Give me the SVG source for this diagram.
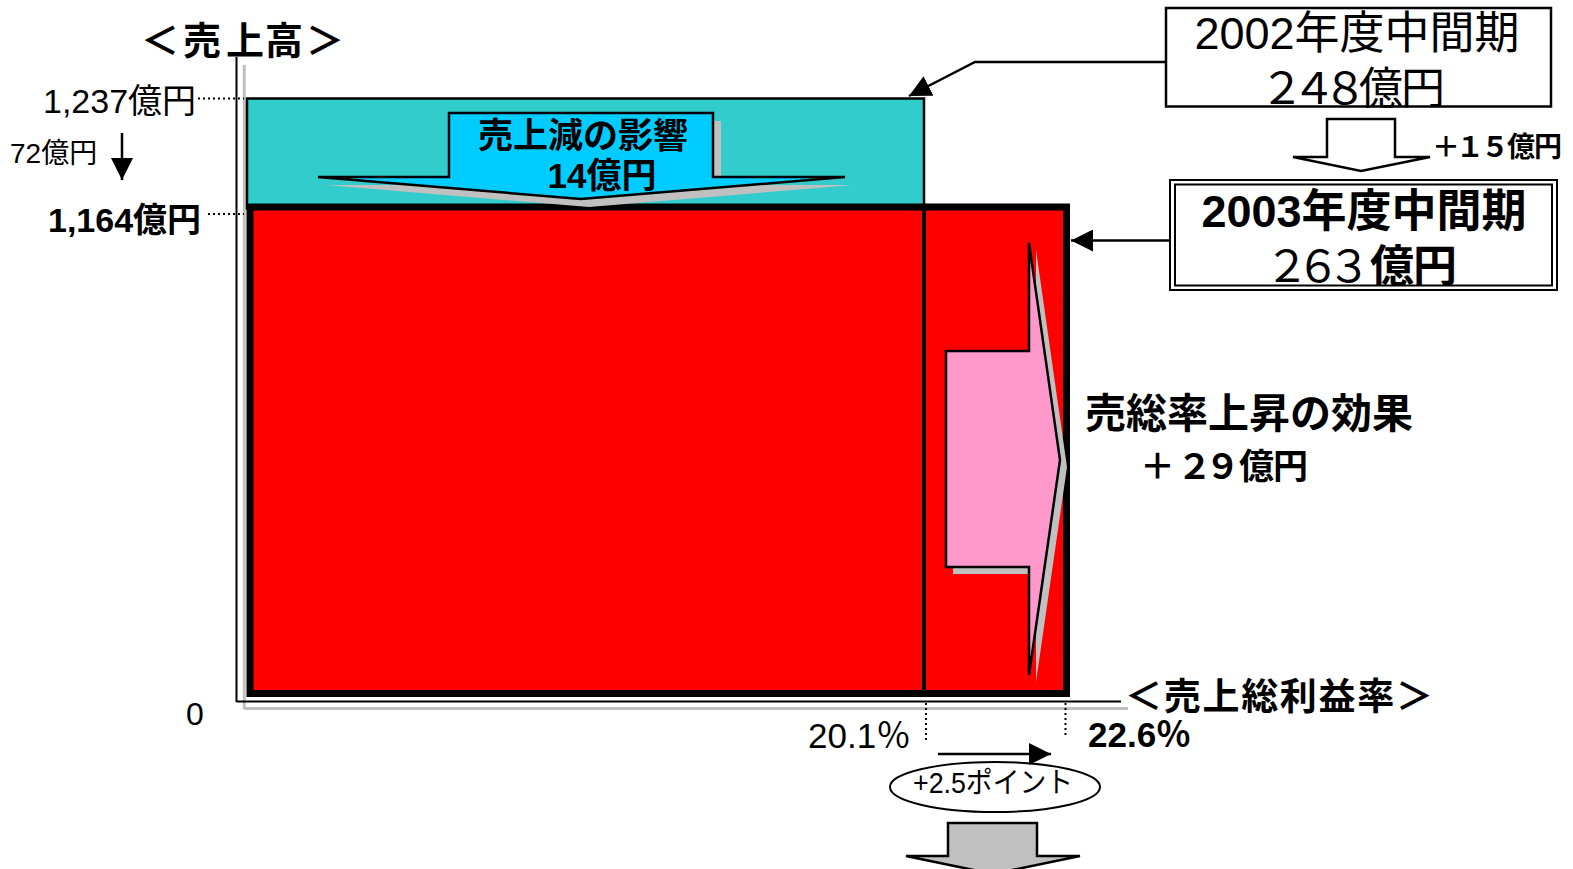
<svg xmlns="http://www.w3.org/2000/svg" width="1573" height="869" viewBox="0 0 1573 869">
<defs>
<style>
.t{font-family:"Liberation Sans","Noto Sans CJK JP",sans-serif;fill:#000}
.j{font-family:"Noto Sans CJK JP","Liberation Sans",sans-serif;fill:#000}
.b{font-weight:bold}
.dot{stroke:#000;stroke-width:2;stroke-dasharray:2 3;fill:none}
.ln{stroke:#000;stroke-width:2.5;fill:none}
.sh{fill:#C0C0C0;stroke:none}
.ol{stroke:#000;stroke-width:2.5;stroke-linejoin:miter}
</style>
<marker id="ah" markerUnits="userSpaceOnUse" markerWidth="22" markerHeight="22" refX="20" refY="10" orient="auto" viewBox="0 0 20 20">
<path d="M0,0 L20,10 L0,20 z" fill="#000"/>
</marker>
</defs>
<rect width="1573" height="869" fill="#fff"/>

<g id="axes">
<line x1="244.3" y1="65" x2="244.3" y2="709" stroke="#C0C0C0" stroke-width="3"/>
<line x1="244" y1="708.5" x2="1128" y2="708.5" stroke="#C0C0C0" stroke-width="3"/>
<line x1="236.5" y1="57" x2="236.5" y2="702" stroke="#000" stroke-width="2"/>
<line x1="236.5" y1="701.5" x2="1121" y2="701.5" stroke="#000" stroke-width="2"/>
<text class="j b" font-size="38" x="141 183 226 265 306" y="54">＜売上高＞</text>
<text class="j b" font-size="37" x="1125" y="710" textLength="308" lengthAdjust="spacing">＜売上総利益率＞</text>
<text class="t" font-size="32" x="186" y="725">0</text>
</g>

<g id="sales2002">
<rect x="247" y="98.5" width="677" height="110" fill="#33CCCC" stroke="#000" stroke-width="2.5"/>
</g>

<g id="sales2003">
<rect x="250" y="207" width="816.5" height="486.5" fill="#FF0000" stroke="#000" stroke-width="7"/>
<line x1="924" y1="207" x2="924" y2="690" stroke="#000" stroke-width="4"/>
</g>

<g id="sales-decrease-arrow">
<path class="sh" d="M457,121 L721,121 L721,185 L853,185 L589,207 L326,185 L457,185 z"/>
<path class="ol" fill="#00CCFF" d="M449,113 L713,113 L713,177 L845,177 L581,199 L318,177 L449,177 z"/>
<text class="j b" font-size="35" x="583" y="148" text-anchor="middle">売上減の影響</text>
<text class="t b" font-size="35" x="602" y="188" text-anchor="middle">14億円</text>
</g>

<g id="margin-effect-arrow">
<path class="sh" d="M953,358 L1036,358 L1036,250 L1067,467 L1036,682 L1036,574 L953,574 z"/>
<path class="ol" fill="#FF99CC" d="M946,351 L1029,351 L1029,243 L1060,460 L1029,675 L1029,567 L946,567 z"/>
</g>

<g id="box2002">
<rect x="1166" y="8" width="385" height="98.5" fill="#fff" stroke="#000" stroke-width="2.5"/>
<text class="t" font-size="45" x="1357" y="49" text-anchor="middle">2002年度中間期</text>
<text class="j" font-size="44" x="1260 1292 1323 1359 1401" y="104">２４８億円</text>
</g>

<g id="increase-arrow">
<path class="ol" fill="#fff" stroke-width="2" d="M1327,119 L1395,119 L1395,157 L1430,157 L1361,171 L1293,157 L1327,157 z"/>
<text class="j b" font-size="28" x="1432 1456 1481 1507 1534" y="157">＋１５億円</text>
</g>

<g id="box2003">
<rect x="1170" y="180" width="387" height="110" fill="#fff" stroke="#000" stroke-width="2"/>
<rect x="1175" y="184.5" width="377" height="101" fill="none" stroke="#000" stroke-width="2"/>
<text class="t b" font-size="45" x="1364" y="227" text-anchor="middle">2003年度中間期</text>
<text class="j" font-size="44" y="282"><tspan x="1265 1296 1327">２６３</tspan><tspan x="1370 1413" font-weight="bold">億円</tspan></text>
</g>

<g id="margin-labels">
<text class="j b" font-size="41" x="1085" y="428">売総率上昇の効果</text>
<text class="j b" font-size="35" x="1140 1177 1205 1239 1273" y="479">＋２９億円</text>
<text class="t" font-size="35" x="808" y="748">20.1％</text>
<text class="t b" font-size="35" x="1088" y="747">22.6％</text>
<ellipse cx="995" cy="787" rx="105" ry="25" fill="#fff" stroke="#000" stroke-width="2"/>
<text class="t" font-size="29" x="913" y="793" textLength="160" lengthAdjust="spacingAndGlyphs">+2.5ポイント</text>
</g>

<g id="sales-labels">
<text class="t" font-size="34" x="43" y="113">1,237億円</text>
<text class="t" font-size="28" x="10" y="163">72億円</text>
<text class="t b" font-size="34" x="48" y="232">1,164億円</text>
</g>

<g id="result-arrow">
<path class="ol" fill="#C0C0C0" stroke-width="2" d="M948,823 L1037,823 L1037,856 L1080,856 L993,874 L906,856 L948,856 z"/>
</g>

<g id="connectors">
<line class="dot" x1="198" y1="98.5" x2="244" y2="98.5"/>
<line class="dot" x1="208" y1="214" x2="244" y2="214"/>
<line class="dot" x1="926" y1="703" x2="926" y2="743"/>
<line class="dot" x1="1065.5" y1="703" x2="1065.5" y2="736"/>
<line class="ln" x1="122" y1="133" x2="122" y2="180" marker-end="url(#ah)"/>
<path class="ln" d="M1166,62 L975,62 L909,96" marker-end="url(#ah)"/>
<line class="ln" x1="1170" y1="240.5" x2="1071" y2="240.5" marker-end="url(#ah)"/>
<line class="ln" x1="938" y1="754" x2="1051" y2="754" marker-end="url(#ah)"/>
</g>
</svg>
